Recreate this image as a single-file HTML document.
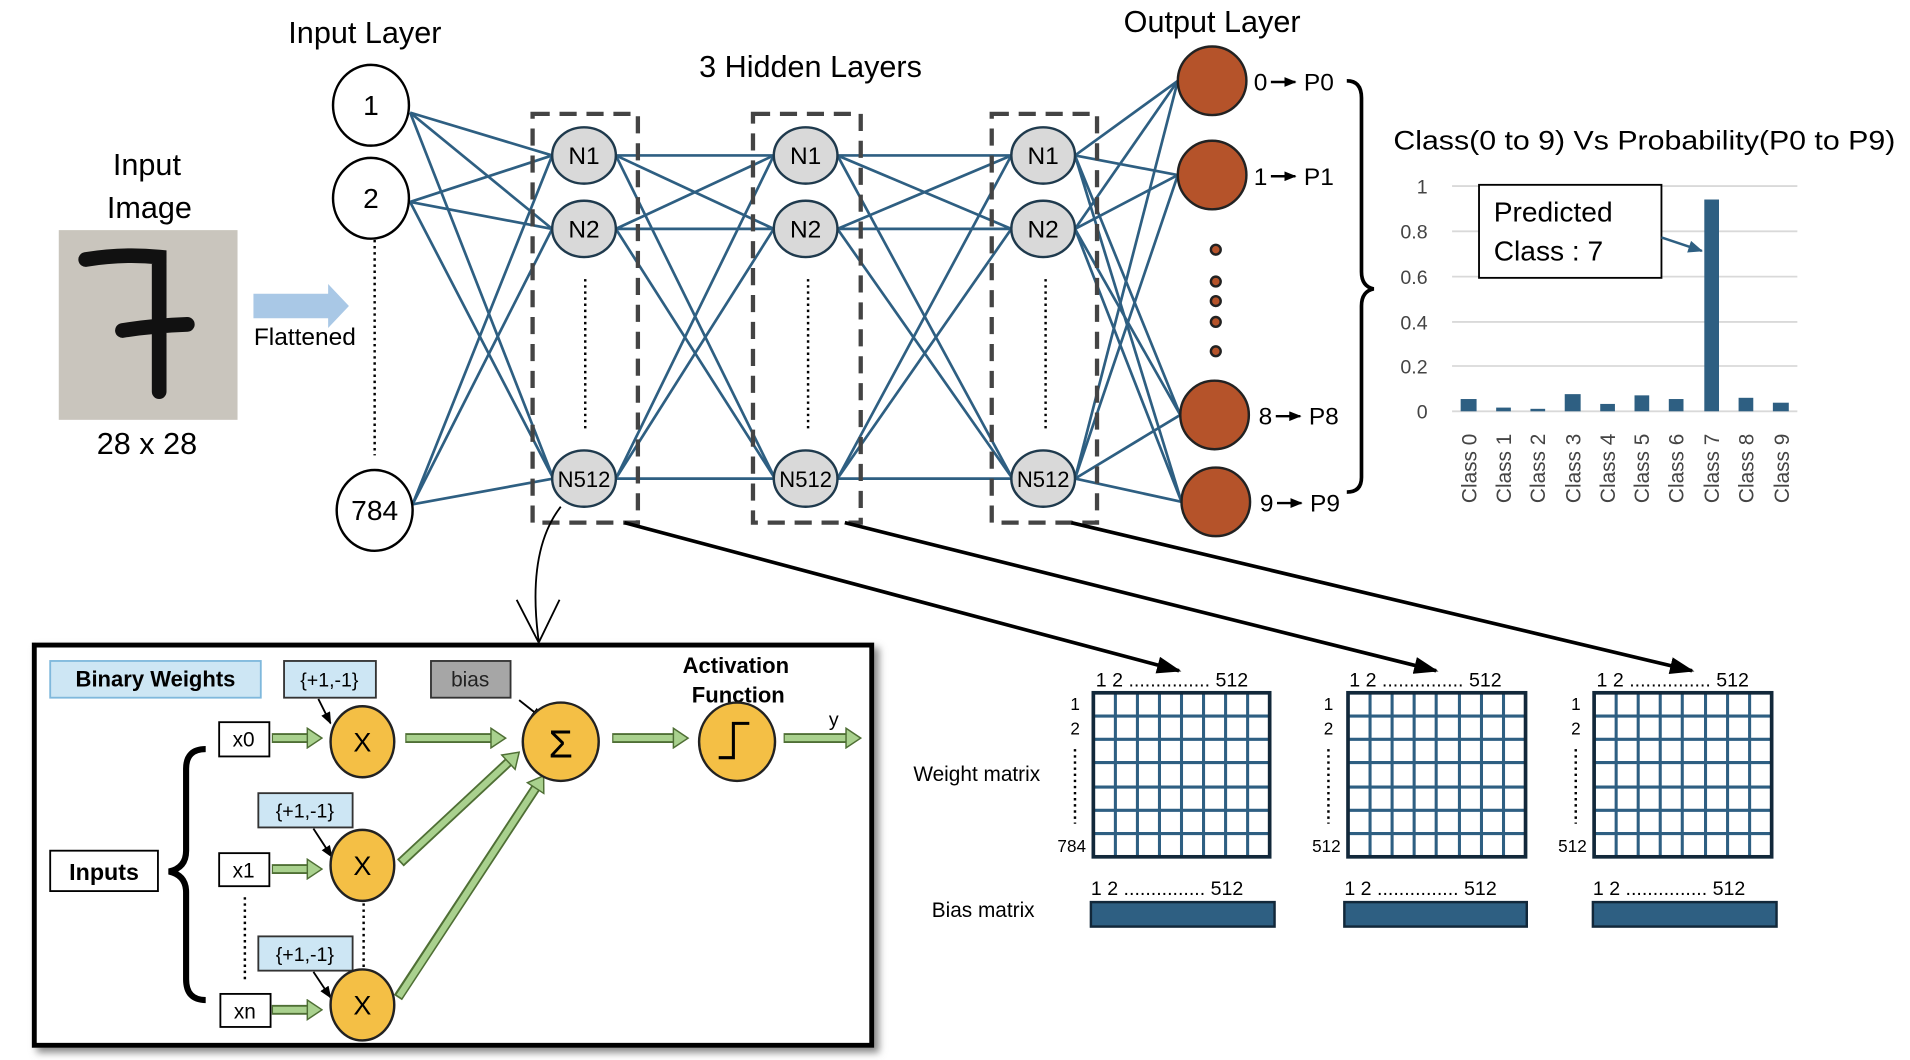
<!DOCTYPE html>
<html><head><meta charset="utf-8"><style>html,body{margin:0;padding:0;background:#fff}svg{display:block}text{font-family:"Liberation Sans",sans-serif}</style></head><body>
<svg width="1910" height="1060" viewBox="0 0 1560 866" preserveAspectRatio="none" xmlns="http://www.w3.org/2000/svg">
<defs>
<marker id="bk" markerUnits="userSpaceOnUse" markerWidth="20" markerHeight="14" refX="18" refY="7" orient="auto"><path d="M0,0 L20,7 L0,14 Z" fill="#000"/></marker>
<marker id="sm" markerUnits="userSpaceOnUse" markerWidth="10" markerHeight="8" refX="9" refY="4" orient="auto"><path d="M0,0 L10,4 L0,8 Z" fill="#000"/></marker>
<marker id="bl" markerUnits="userSpaceOnUse" markerWidth="12" markerHeight="10" refX="11" refY="5" orient="auto"><path d="M0,0 L12,5 L0,10 Z" fill="#2e5f82"/></marker>
<marker id="gr" markerUnits="userSpaceOnUse" markerWidth="14" markerHeight="18" refX="2" refY="9" orient="auto"><path d="M1,1 L13,9 L1,17 Z" fill="#a9d18e" stroke="#4f6f35" stroke-width="1.2"/></marker>
<filter id="sh"><feDropShadow dx="4" dy="4" stdDeviation="3" flood-color="#888"/></filter>
</defs>

<text x="120" y="143" font-size="25" text-anchor="middle">Input</text>
<text x="122" y="178" font-size="25" text-anchor="middle">Image</text>
<rect x="48" y="188" width="146" height="155" fill="#c9c5bd"/>
<path d="M70,212 Q100,207 130,210 L130,320 M100,270 Q125,266 153,265" stroke="#111" stroke-width="12" fill="none" stroke-linecap="round"/>
<text x="120" y="371" font-size="25" text-anchor="middle">28 x 28</text>
<path d="M207,240 L268,240 L268,232 L285,250 L268,268 L268,260 L207,260 Z" fill="#a9c8e6"/>
<text x="249" y="282" font-size="20" text-anchor="middle">Flattened</text>

<text x="298" y="35" font-size="25" text-anchor="middle">Input Layer</text>
<text x="662" y="63" font-size="25" text-anchor="middle">3 Hidden Layers</text>
<text x="990" y="26" font-size="25" text-anchor="middle">Output  Layer</text>

<g stroke="#2e5f82" stroke-width="2.2" fill="none">
<line x1="335" y1="92" x2="451" y2="127"/><line x1="335" y1="92" x2="451" y2="187"/><line x1="335" y1="92" x2="452" y2="391"/>
<line x1="335" y1="165" x2="451" y2="127"/><line x1="335" y1="165" x2="451" y2="187"/><line x1="335" y1="165" x2="452" y2="391"/>
<line x1="337" y1="412" x2="451" y2="127"/><line x1="337" y1="412" x2="451" y2="187"/><line x1="337" y1="412" x2="452" y2="391"/>
<line x1="503" y1="127" x2="632" y2="127"/><line x1="503" y1="127" x2="632" y2="187"/><line x1="503" y1="127" x2="633" y2="391"/>
<line x1="503" y1="187" x2="632" y2="127"/><line x1="503" y1="187" x2="632" y2="187"/><line x1="503" y1="187" x2="633" y2="391"/>
<line x1="503" y1="391" x2="632" y2="127"/><line x1="503" y1="391" x2="632" y2="187"/><line x1="503" y1="391" x2="633" y2="391"/>
<line x1="684" y1="127" x2="826" y2="127"/><line x1="684" y1="127" x2="826" y2="187"/><line x1="684" y1="127" x2="827" y2="391"/>
<line x1="684" y1="187" x2="826" y2="127"/><line x1="684" y1="187" x2="826" y2="187"/><line x1="684" y1="187" x2="827" y2="391"/>
<line x1="684" y1="391" x2="826" y2="127"/><line x1="684" y1="391" x2="826" y2="187"/><line x1="684" y1="391" x2="827" y2="391"/>
<line x1="878" y1="127" x2="962" y2="66"/><line x1="878" y1="127" x2="962" y2="143"/><line x1="878" y1="127" x2="964" y2="339"/><line x1="878" y1="127" x2="965" y2="410"/>
<line x1="878" y1="187" x2="962" y2="66"/><line x1="878" y1="187" x2="962" y2="143"/><line x1="878" y1="187" x2="964" y2="339"/><line x1="878" y1="187" x2="965" y2="410"/>
<line x1="878" y1="391" x2="962" y2="66"/><line x1="878" y1="391" x2="962" y2="143"/><line x1="878" y1="391" x2="964" y2="339"/><line x1="878" y1="391" x2="965" y2="410"/>
</g>

<g stroke="#000" stroke-width="2" fill="#fff">
<ellipse cx="303" cy="86" rx="31" ry="33"/><ellipse cx="303" cy="162" rx="31" ry="33"/><ellipse cx="306" cy="417" rx="31" ry="33"/>
</g>
<g font-size="23" text-anchor="middle"><text x="303" y="94">1</text><text x="303" y="170">2</text><text x="306" y="425">784</text></g>
<line x1="306" y1="196" x2="306" y2="372" stroke="#000" stroke-width="2" stroke-dasharray="2,3"/>

<g stroke="#444" stroke-width="3.5" fill="none" stroke-dasharray="14,8">
<rect x="435" y="93" width="86" height="334"/><rect x="615" y="93" width="88" height="334"/><rect x="810" y="93" width="86" height="334"/>
</g>
<g stroke="#1f3a4d" stroke-width="2" fill="#d9d9d9">
<ellipse cx="477" cy="127" rx="26" ry="23"/><ellipse cx="477" cy="187" rx="26" ry="23"/><ellipse cx="477" cy="391" rx="26" ry="23"/>
<ellipse cx="658" cy="127" rx="26" ry="23"/><ellipse cx="658" cy="187" rx="26" ry="23"/><ellipse cx="658" cy="391" rx="26" ry="23"/>
<ellipse cx="852" cy="127" rx="26" ry="23"/><ellipse cx="852" cy="187" rx="26" ry="23"/><ellipse cx="852" cy="391" rx="26" ry="23"/>
</g>
<g font-size="20" text-anchor="middle">
<text x="477" y="134">N1</text><text x="477" y="194">N2</text><text x="477" y="398" font-size="18">N512</text>
<text x="658" y="134">N1</text><text x="658" y="194">N2</text><text x="658" y="398" font-size="18">N512</text>
<text x="852" y="134">N1</text><text x="852" y="194">N2</text><text x="852" y="398" font-size="18">N512</text>
</g>
<g stroke="#000" stroke-width="2" stroke-dasharray="2,3">
<line x1="478" y1="228" x2="478" y2="350"/><line x1="660" y1="228" x2="660" y2="350"/><line x1="854" y1="228" x2="854" y2="350"/>
</g>

<g fill="#b5532a" stroke="#222" stroke-width="2">
<circle cx="990" cy="66" r="28"/><circle cx="990" cy="143" r="28"/><circle cx="992" cy="339" r="28"/><circle cx="993" cy="410" r="28"/>
<circle cx="993" cy="204" r="4"/><circle cx="993" cy="230" r="4"/><circle cx="993" cy="246" r="4"/><circle cx="993" cy="263" r="4"/><circle cx="993" cy="287" r="4"/>
</g>
<g font-size="20">
<text x="1024" y="74">0</text><text x="1065" y="74">P0</text>
<text x="1024" y="151">1</text><text x="1065" y="151">P1</text>
<text x="1028" y="347">8</text><text x="1069" y="347">P8</text>
<text x="1029" y="418">9</text><text x="1070" y="418">P9</text>
</g>
<g stroke="#000" stroke-width="2">
<line x1="1038" y1="67" x2="1058" y2="67" marker-end="url(#sm)"/>
<line x1="1038" y1="144" x2="1058" y2="144" marker-end="url(#sm)"/>
<line x1="1042" y1="340" x2="1062" y2="340" marker-end="url(#sm)"/>
<line x1="1043" y1="411" x2="1063" y2="411" marker-end="url(#sm)"/>
</g>
<path d="M1100,66 Q1112,66 1112,80 L1112,222 Q1112,234 1122,236 Q1112,238 1112,250 L1112,390 Q1112,402 1100,402" stroke="#000" stroke-width="3" fill="none"/>

<text x="1138" y="122" font-size="22" textLength="410" lengthAdjust="spacingAndGlyphs">Class(0 to 9) Vs Probability(P0 to P9)</text>
<g stroke="#d9d9d9" stroke-width="1.5">
<line x1="1186" y1="152" x2="1468" y2="152"/><line x1="1186" y1="189" x2="1468" y2="189"/><line x1="1186" y1="226" x2="1468" y2="226"/><line x1="1186" y1="263" x2="1468" y2="263"/><line x1="1186" y1="299" x2="1468" y2="299"/><line x1="1186" y1="336" x2="1468" y2="336"/>
</g>
<g font-size="16" fill="#444" text-anchor="end">
<text x="1166" y="158">1</text><text x="1166" y="195">0.8</text><text x="1166" y="232">0.6</text><text x="1166" y="269">0.4</text><text x="1166" y="305">0.2</text><text x="1166" y="342">0</text>
</g>
<g fill="#2e5f82">
<rect x="1193" y="326" width="13" height="10"/><rect x="1222" y="333" width="12" height="3"/><rect x="1250" y="334" width="12" height="2"/><rect x="1278" y="322" width="13" height="14"/><rect x="1307" y="330" width="12" height="6"/><rect x="1335" y="323" width="12" height="13"/><rect x="1363" y="326" width="12" height="10"/><rect x="1392" y="163" width="12" height="173"/><rect x="1420" y="325" width="12" height="11"/><rect x="1448" y="329" width="13" height="7"/>
</g>
<g font-size="17" fill="#444">
<text transform="translate(1206,411) rotate(-90)">Class 0</text><text transform="translate(1234,411) rotate(-90)">Class 1</text><text transform="translate(1262,411) rotate(-90)">Class 2</text><text transform="translate(1291,411) rotate(-90)">Class 3</text><text transform="translate(1319,411) rotate(-90)">Class 4</text><text transform="translate(1347,411) rotate(-90)">Class 5</text><text transform="translate(1375,411) rotate(-90)">Class 6</text><text transform="translate(1404,411) rotate(-90)">Class 7</text><text transform="translate(1432,411) rotate(-90)">Class 8</text><text transform="translate(1461,411) rotate(-90)">Class 9</text>
</g>
<rect x="1208" y="151" width="149" height="76" fill="#fff" stroke="#000" stroke-width="1.5"/>
<text x="1220" y="181" font-size="23">Predicted</text><text x="1220" y="213" font-size="23">Class : 7</text>
<line x1="1357" y1="194" x2="1390" y2="205" stroke="#2e5f82" stroke-width="2" marker-end="url(#bl)"/>

<g stroke="#000" stroke-width="3">
<line x1="510" y1="427" x2="963" y2="548" marker-end="url(#bk)"/>
<line x1="690" y1="427" x2="1173" y2="548" marker-end="url(#bk)"/>
<line x1="875" y1="427" x2="1382" y2="548" marker-end="url(#bk)"/>
</g>
<path d="M458,414 Q430,450 440,524" stroke="#000" stroke-width="1.5" fill="none"/>
<path d="M422,490 L440,525 L457,490" stroke="#000" stroke-width="1.5" fill="none"/>

<rect x="28" y="527" width="684" height="327" fill="#fff" stroke="#000" stroke-width="4" filter="url(#sh)"/>
<rect x="41" y="540" width="172" height="30" fill="#cde6f4" stroke="#7fb8dc" stroke-width="1.5"/>
<text x="127" y="561" font-size="18" font-weight="bold" text-anchor="middle">Binary Weights</text>
<g fill="#cde6f4" stroke="#333" stroke-width="1.5">
<rect x="232" y="540" width="75" height="30"/><rect x="211" y="648" width="77" height="28"/><rect x="211" y="765" width="77" height="28"/>
</g>
<g font-size="16" text-anchor="middle"><text x="269" y="561">{+1,-1}</text><text x="249" y="668">{+1,-1}</text><text x="249" y="785">{+1,-1}</text></g>
<rect x="352" y="540" width="65" height="30" fill="#a6a6a6" stroke="#333" stroke-width="1.5"/>
<text x="384" y="561" font-size="17" text-anchor="middle" fill="#222">bias</text>
<text x="601" y="550" font-size="18" font-weight="bold" text-anchor="middle">Activation</text>
<text x="603" y="574" font-size="18" font-weight="bold" text-anchor="middle">Function</text>
<text x="677" y="593" font-size="16">y</text>
<g fill="#fff" stroke="#000" stroke-width="1.5">
<rect x="179" y="590" width="41" height="28"/><rect x="179" y="697" width="41" height="27"/><rect x="180" y="812" width="41" height="27"/><rect x="41" y="695" width="88" height="33"/>
</g>
<g font-size="17" text-anchor="middle"><text x="199" y="610">x0</text><text x="199" y="717">x1</text><text x="200" y="832">xn</text></g>
<text x="85" y="719" font-size="19" font-weight="bold" text-anchor="middle">Inputs</text>
<path d="M168,612 Q152,612 152,628 L152,695 Q152,709 138,712 Q152,715 152,729 L152,800 Q152,817 168,817" stroke="#000" stroke-width="5" fill="none"/>
<g stroke="#000" stroke-width="2" stroke-dasharray="2,3"><line x1="200" y1="733" x2="200" y2="800"/><line x1="297" y1="738" x2="297" y2="790"/></g>
<g stroke="#4f6f35" stroke-width="8">
<line x1="222" y1="603" x2="252" y2="603"/><line x1="222" y1="710" x2="252" y2="710"/><line x1="222" y1="825" x2="252" y2="825"/>
<line x1="331" y1="603" x2="402" y2="603"/><line x1="500" y1="603" x2="551" y2="603"/><line x1="640" y1="603" x2="692" y2="603"/>
<line x1="327" y1="705" x2="416" y2="622"/><line x1="325" y1="815" x2="438" y2="643"/>
</g>
<g stroke="#a9d18e" stroke-width="5">
<line x1="223" y1="603" x2="252" y2="603" marker-end="url(#gr)"/><line x1="223" y1="710" x2="252" y2="710" marker-end="url(#gr)"/><line x1="223" y1="825" x2="252" y2="825" marker-end="url(#gr)"/>
<line x1="332" y1="603" x2="402" y2="603" marker-end="url(#gr)"/><line x1="501" y1="603" x2="551" y2="603" marker-end="url(#gr)"/><line x1="641" y1="603" x2="692" y2="603" marker-end="url(#gr)"/>
<line x1="328" y1="704" x2="416" y2="622" marker-end="url(#gr)"/><line x1="326" y1="814" x2="438" y2="643" marker-end="url(#gr)"/>
</g>
<g stroke="#000" stroke-width="1.5">
<line x1="260" y1="571" x2="270" y2="591" marker-end="url(#sm)"/><line x1="256" y1="677" x2="271" y2="700" marker-end="url(#sm)"/><line x1="256" y1="794" x2="270" y2="815" marker-end="url(#sm)"/><line x1="424" y1="572" x2="443" y2="587" marker-end="url(#sm)"/>
</g>
<g fill="#f4bf45" stroke="#222" stroke-width="2">
<ellipse cx="296" cy="606" rx="26" ry="29"/><ellipse cx="296" cy="707" rx="26" ry="29"/><ellipse cx="296" cy="821" rx="26" ry="29"/>
<ellipse cx="458" cy="606" rx="31" ry="32"/><ellipse cx="602" cy="606" rx="31" ry="32"/>
</g>
<g font-size="22" text-anchor="middle"><text x="296" y="614">X</text><text x="296" y="715">X</text><text x="296" y="829">X</text><text x="458" y="619" font-size="32">Σ</text></g>
<path d="M587,619 L599,619 L599,591 L612,591" stroke="#000" stroke-width="2.5" fill="none"/>

<text x="895" y="561" font-size="16">1  2 ...............  512</text>
<g font-size="14" text-anchor="end"><text x="882" y="580">1</text><text x="882" y="600">2</text><text x="887" y="696">784</text></g>
<line x1="878" y1="612" x2="878" y2="673" stroke="#000" stroke-width="2" stroke-dasharray="2,3"/>
<text x="746" y="638" font-size="17">Weight matrix</text>
<text x="761" y="749" font-size="17">Bias matrix</text>
<text x="1102" y="561" font-size="16">1  2 ...............  512</text>
<g font-size="14" text-anchor="end"><text x="1089" y="580">1</text><text x="1089" y="600">2</text><text x="1095" y="696">512</text></g>
<line x1="1085" y1="612" x2="1085" y2="673" stroke="#000" stroke-width="2" stroke-dasharray="2,3"/>
<text x="1304" y="561" font-size="16">1  2 ...............  512</text>
<g font-size="14" text-anchor="end"><text x="1291" y="580">1</text><text x="1291" y="600">2</text><text x="1296" y="696">512</text></g>
<line x1="1287" y1="612" x2="1287" y2="673" stroke="#000" stroke-width="2" stroke-dasharray="2,3"/>
<g stroke="#2e5f82" stroke-width="2.5" fill="none">
<path d="M911,566V700M929,566V700M947,566V700M965,566V700M983,566V700M1001,566V700M1019,566V700M893,585H1037M893,604H1037M893,623H1037M893,643H1037M893,662H1037M893,681H1037"/>
<path d="M1119,566V700M1137,566V700M1155,566V700M1173,566V700M1192,566V700M1210,566V700M1228,566V700M1101,585H1246M1101,604H1246M1101,623H1246M1101,643H1246M1101,662H1246M1101,681H1246"/>
<path d="M1320,566V700M1338,566V700M1356,566V700M1374,566V700M1393,566V700M1411,566V700M1429,566V700M1302,585H1447M1302,604H1447M1302,623H1447M1302,643H1447M1302,662H1447M1302,681H1447"/>
</g>
<g stroke="#12283a" stroke-width="3" fill="none">
<rect x="893" y="566" width="144" height="134"/><rect x="1101" y="566" width="145" height="134"/><rect x="1302" y="566" width="145" height="134"/>
</g>
<text x="891" y="731" font-size="16">1  2 ...............  512</text>
<text x="1098" y="731" font-size="16">1  2 ...............  512</text>
<text x="1301" y="731" font-size="16">1  2 ...............  512</text>
<g fill="#2e5f82" stroke="#12283a" stroke-width="2">
<rect x="891" y="737" width="150" height="20"/><rect x="1098" y="737" width="149" height="20"/><rect x="1301" y="737" width="150" height="20"/>
</g>
</svg>
</body></html>
